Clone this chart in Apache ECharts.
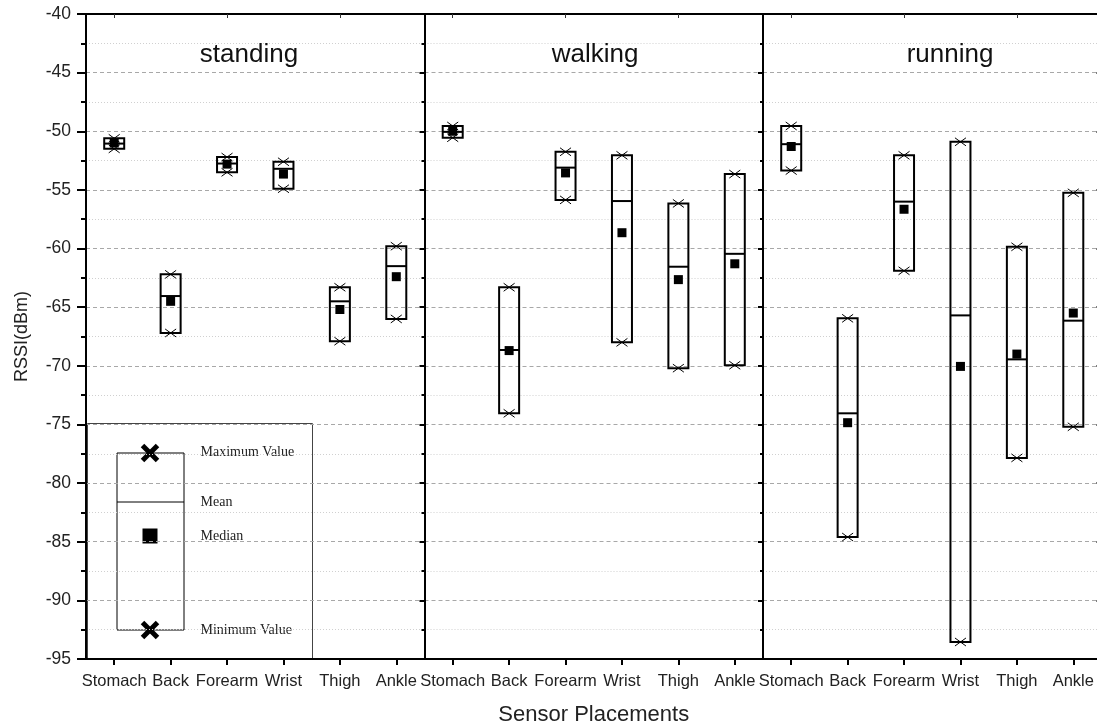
<!DOCTYPE html>
<html>
<head>
<meta charset="utf-8">
<script src="https://cdn.jsdelivr.net/npm/echarts@6/dist/echarts.min.js"></script>
<style>
  html, body { margin: 0; padding: 0; background: #fff; }
  #chart { width: 1097px; height: 727px; }
</style>
</head>
<body>
<div id="chart"></div>
<script>
// Sensor placements on the body and the three activities
const categories = ['Stomach', 'Back', 'Forearm', 'Wrist', 'Thigh', 'Ankle'];
const activities = ['standing', 'walking', 'running'];

// RSSI statistics (dBm), one row per activity, one column per placement
const maxValues = [
  [-50.6, -62.2, -52.2, -52.6, -63.3, -59.8],
  [-49.55, -63.3, -51.75, -52.05, -56.15, -53.65],
  [-49.55, -65.95, -52.05, -50.9, -59.85, -55.25]
];
const minValues = [
  [-51.5, -67.2, -53.5, -54.9, -67.9, -66.0],
  [-50.55, -74.05, -55.85, -68.0, -70.2, -69.95],
  [-53.35, -84.6, -61.9, -93.55, -77.85, -75.2]
];
const meanValues = [
  [-51.05, -64.05, -52.75, -53.2, -64.5, -61.5],
  [-50.05, -68.65, -53.1, -55.95, -61.55, -60.45],
  [-51.1, -74.05, -56.0, -65.7, -69.45, -66.15]
];
const medianValues = [
  [-51.0, -64.5, -52.8, -53.65, -65.2, -62.4],
  [-50.0, -68.7, -53.55, -58.65, -62.65, -61.3],
  [-51.3, -74.85, -56.65, -70.05, -69.0, -65.5]
];

// y axis range
const yMin = -95, yMax = -40, yStep = 5;

const SANS = '"Liberation Sans", Arial, Helvetica, sans-serif';
const SERIF = '"Liberation Serif", "Times New Roman", serif';

const panelLeft = [86, 424.5, 763];
const panelWidth = 338.5;
const titleCenter = [249, 595, 950];

// box: min..max rectangle, mean line, median square, x marks at the extremes
function renderBox(params, api) {
  const x = api.value(0);
  const hi = api.coord([x, api.value(1)]);
  const lo = api.coord([x, api.value(2)]);
  const mean = api.coord([x, api.value(3)]);
  const med = api.coord([x, api.value(4)]);
  const half = 10;
  const cross = (p) => [
    { type: 'line', shape: { x1: p[0] - 5.5, y1: p[1] - 4, x2: p[0] + 5.5, y2: p[1] + 4 }, style: { stroke: '#000', lineWidth: 1 } },
    { type: 'line', shape: { x1: p[0] - 5.5, y1: p[1] + 4, x2: p[0] + 5.5, y2: p[1] - 4 }, style: { stroke: '#000', lineWidth: 1 } }
  ];
  return {
    type: 'group',
    children: [
      { type: 'rect', shape: { x: hi[0] - half, y: hi[1], width: half * 2, height: lo[1] - hi[1] },
        style: { fill: 'none', stroke: '#000', lineWidth: 2 } },
      { type: 'line', shape: { x1: mean[0] - half, y1: mean[1], x2: mean[0] + half, y2: mean[1] },
        style: { stroke: '#000', lineWidth: 2 } },
      { type: 'rect', shape: { x: med[0] - 4.5, y: med[1] - 4.5, width: 9, height: 9 },
        style: { fill: '#000' } },
      ...cross(hi),
      ...cross(lo)
    ]
  };
}

const grids = [], xAxes = [], yAxes = [], series = [], titles = [];

activities.forEach((act, i) => {
  grids.push({ left: panelLeft[i], top: 14, width: panelWidth, height: 645, outerBoundsMode: 'none', containLabel: false });

  // bottom category axis
  xAxes.push({
    type: 'category', gridIndex: i, position: 'bottom', data: categories, boundaryGap: true,
    axisLine: { show: true, lineStyle: { color: '#000', width: 2 } },
    axisTick: { show: true, alignWithLabel: true, inside: false, length: 6, lineStyle: { color: '#000', width: 2 } },
    axisLabel: { color: '#222', fontFamily: SANS, fontSize: 16.5, margin: 14, interval: 0, hideOverlap: false },
    splitLine: { show: false },
    name: i === 1 ? 'Sensor Placements' : '',
    nameLocation: 'middle', nameGap: 45,
    nameTextStyle: { color: '#222', fontFamily: SANS, fontSize: 22 }
  });
  // top frame axis
  xAxes.push({
    type: 'category', gridIndex: i, position: 'top', data: categories, boundaryGap: true,
    axisLine: { show: true, lineStyle: { color: '#000', width: 2 } },
    axisTick: { show: true, alignWithLabel: true, inside: true, length: 4, lineStyle: { color: '#333', width: 1 } },
    axisLabel: { show: false },
    splitLine: { show: false }
  });

  // left value axis (labels only on the first panel)
  yAxes.push({
    type: 'value', gridIndex: i, position: 'left', min: yMin, max: yMax, interval: yStep,
    axisLine: { show: true, lineStyle: { color: '#000', width: 2 } },
    axisTick: { show: i === 0, inside: false, length: 9, lineStyle: { color: '#000', width: 2 } },
    minorTick: { show: i === 0, splitNumber: 2, length: 5, lineStyle: { color: '#000', width: 2 } },
    axisLabel: { show: i === 0, color: '#222', fontFamily: SANS, fontSize: 17.5, margin: 15 },
    splitLine: { show: true, lineStyle: { color: '#a8a8a8', type: [4, 3], width: 1 } },
    minorSplitLine: { show: true, lineStyle: { color: '#d0d0d0', type: [1, 2], width: 1 } },
    name: i === 0 ? 'RSSI(dBm)' : '',
    nameLocation: 'middle', nameGap: 55,
    nameTextStyle: { color: '#222', fontFamily: SANS, fontSize: 18 }
  });
  // right frame axis with inward ticks
  yAxes.push({
    type: 'value', gridIndex: i, position: 'right', min: yMin, max: yMax, interval: yStep,
    axisLine: { show: true, lineStyle: { color: '#000', width: 2 } },
    axisTick: { show: true, inside: true, length: 5, lineStyle: { color: '#000', width: 2 } },
    minorTick: { show: true, splitNumber: 2, length: 3, lineStyle: { color: '#000', width: 2 } },
    axisLabel: { show: false },
    splitLine: { show: false }
  });

  series.push({
    type: 'custom',
    name: act,
    xAxisIndex: i * 2,
    yAxisIndex: i * 2,
    renderItem: renderBox,
    encode: { x: 0, y: [1, 2, 3, 4] },
    data: categories.map((c, j) => [j, maxValues[i][j], minValues[i][j], meanValues[i][j], medianValues[i][j]]),
    z: 5
  });

  titles.push({
    text: act, left: titleCenter[i], top: 42, textAlign: 'center', padding: 0,
    textStyle: { color: '#111', fontFamily: SANS, fontSize: 26, fontWeight: 'normal' }
  });
});

// key explaining the box symbols
const key = {
  type: 'group', left: 87, top: 423, z: 100,
  children: [
    { type: 'rect', shape: { x: 0, y: 0, width: 225, height: 235 },
      style: { fill: '#fff', stroke: '#444', lineWidth: 1 } },
    { type: 'rect', shape: { x: 29.5, y: 29.5, width: 67, height: 177 },
      style: { fill: 'none', stroke: '#000', lineWidth: 1 } },
    { type: 'line', shape: { x1: 29.5, y1: 78.5, x2: 96.5, y2: 78.5 }, style: { stroke: '#000', lineWidth: 1 } },
    { type: 'rect', shape: { x: 55, y: 105, width: 15, height: 15 }, style: { fill: '#000' } },
    { type: 'line', shape: { x1: 55, y1: 22, x2: 70, y2: 37 }, style: { stroke: '#000', lineWidth: 5 } },
    { type: 'line', shape: { x1: 55, y1: 37, x2: 70, y2: 22 }, style: { stroke: '#000', lineWidth: 5 } },
    { type: 'line', shape: { x1: 55, y1: 199, x2: 70, y2: 214 }, style: { stroke: '#000', lineWidth: 5 } },
    { type: 'line', shape: { x1: 55, y1: 214, x2: 70, y2: 199 }, style: { stroke: '#000', lineWidth: 5 } },
    { type: 'text', x: 113, y: 29, style: { text: 'Maximum Value', fill: '#222', font: '14px ' + SERIF, verticalAlign: 'middle' } },
    { type: 'text', x: 113, y: 79, style: { text: 'Mean', fill: '#222', font: '14px ' + SERIF, verticalAlign: 'middle' } },
    { type: 'text', x: 113, y: 113, style: { text: 'Median', fill: '#222', font: '14px ' + SERIF, verticalAlign: 'middle' } },
    { type: 'text', x: 113, y: 207, style: { text: 'Minimum Value', fill: '#222', font: '14px ' + SERIF, verticalAlign: 'middle' } }
  ]
};

const chart = echarts.init(document.getElementById('chart'), null, { renderer: 'canvas' });
chart.setOption({
  backgroundColor: '#fff',
  animation: false,
  title: titles,
  grid: grids,
  xAxis: xAxes,
  yAxis: yAxes,
  series: series,
  graphic: [key]
});
</script>
</body>
</html>
